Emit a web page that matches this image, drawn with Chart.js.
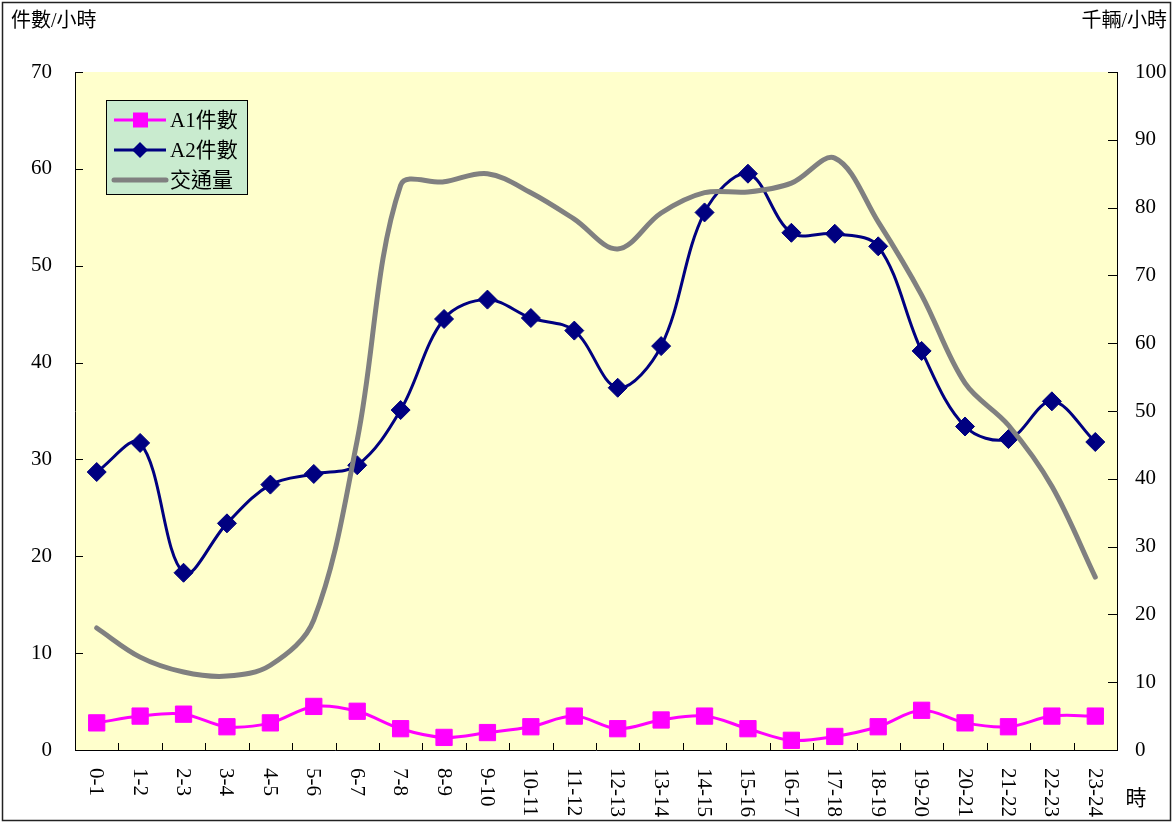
<!DOCTYPE html>
<html>
<head>
<meta charset="utf-8">
<script src="https://cdn.jsdelivr.net/npm/chart.js@4"></script>
<style>
html,body{margin:0;padding:0;background:#fff;}
canvas{display:block;}
</style>
</head>
<body>
<canvas id="c" width="1174" height="823"></canvas>
<script>
const categories = ['0-1','1-2','2-3','3-4','4-5','5-6','6-7','7-8','8-9','9-10','10-11','11-12','12-13','13-14','14-15','15-16','16-17','17-18','18-19','19-20','20-21','21-22','22-23','23-24'];
const a1Counts = [2.8,3.5,3.7,2.4,2.8,4.5,4.0,2.2,1.3,1.8,2.4,3.5,2.2,3.1,3.5,2.2,1.0,1.4,2.4,4.1,2.8,2.4,3.5,3.5];
const a2Counts = [28.7,31.7,18.3,23.4,27.4,28.5,29.4,35.1,44.5,46.5,44.6,43.3,37.4,41.7,55.5,59.5,53.4,53.3,52.0,41.2,33.4,32.1,36.0,31.8];
const traffic = [18.0,13.7,11.5,10.9,12.5,19.2,45.7,83.3,83.8,85.0,82.2,78.3,73.9,79.2,82.2,82.3,83.6,87.3,77.9,67.1,54.1,47.9,38.9,25.5];
const leftTicks = [0,10,20,30,40,50,60,70];
const rightTicks = [0,10,20,30,40,50,60,70,80,90,100];
const seriesNames = ['A1件數','A2件數','交通量'];
const leftTitle = '件數/小時';
const rightTitle = '千輛/小時';
const xTitle = '時';

const SERIF = "'Liberation Serif','Noto Sans CJK TC'";

const decor = {
  id: 'decor',
  beforeDraw(chart) {
    const ctx = chart.ctx, a = chart.chartArea;
    ctx.save();
    ctx.fillStyle = '#fff';
    ctx.fillRect(0, 0, chart.width, chart.height);
    ctx.fillStyle = '#FFFFCC';
    ctx.fillRect(a.left, a.top, a.right - a.left, a.bottom - a.top);
    ctx.restore();
  },
  afterDraw(chart) {
    const ctx = chart.ctx, a = chart.chartArea;
    const x = chart.scales.x, yl = chart.scales.y, yr = chart.scales.y2;
    ctx.save();
    // outer frame
    ctx.strokeStyle = '#222';
    ctx.lineWidth = 1.5;
    ctx.strokeRect(2.5, 2.5, 1168, 818);
    // tick marks
    ctx.strokeStyle = '#000';
    ctx.lineWidth = 1;
    ctx.beginPath();
    leftTicks.forEach(v => {
      const py = Math.round(yl.getPixelForValue(v)) + 0.5;
      ctx.moveTo(a.left, py); ctx.lineTo(a.left + 8, py);
    });
    rightTicks.forEach(v => {
      const py = Math.round(yr.getPixelForValue(v)) + 0.5;
      ctx.moveTo(a.right - 9, py); ctx.lineTo(a.right, py);
    });
    for (let i = 0; i < categories.length - 1; i++) {
      const px = Math.round((x.getPixelForValue(i) + x.getPixelForValue(i + 1)) / 2) + 0.5;
      ctx.moveTo(px, a.bottom); ctx.lineTo(px, a.bottom - 7);
    }
    ctx.stroke();
    // x labels rotated +90
    ctx.fillStyle = '#000';
    ctx.font = '21px ' + SERIF;
    ctx.textAlign = 'left';
    ctx.textBaseline = 'middle';
    categories.forEach((c, i) => {
      const px = x.getPixelForValue(i) - 1;
      ctx.save();
      ctx.translate(px, a.bottom + 18);
      ctx.rotate(Math.PI / 2);
      ctx.fillText(c, 0, 0);
      ctx.restore();
    });
    // titles
    ctx.font = '20px ' + SERIF;
    ctx.textAlign = 'left';
    ctx.fillText(leftTitle, 11, 22);
    ctx.textAlign = 'right';
    ctx.fillText(rightTitle, 1167, 22);
    ctx.textAlign = 'center';
    ctx.font = '21px ' + SERIF;
    ctx.fillText(xTitle, 1136, 799);
    // legend
    const lx = 106, ly = 100, lw = 141, lh = 94;
    ctx.fillStyle = '#C9EBCF';
    ctx.fillRect(lx, ly, lw, lh);
    ctx.strokeStyle = '#000';
    ctx.lineWidth = 1;
    ctx.strokeRect(lx + 0.5, ly + 0.5, lw, lh);
    const rows = [120, 150, 180];
    const ds = chart.data.datasets;
    rows.forEach((ry, k) => {
      const d = ds[k];
      ctx.strokeStyle = d.borderColor;
      ctx.lineWidth = d.borderWidth;
      ctx.lineCap = k === 2 ? 'round' : 'butt';
      ctx.beginPath();
      ctx.moveTo(114, ry); ctx.lineTo(166, ry);
      ctx.stroke();
      ctx.fillStyle = d.borderColor;
      if (k === 0) {
        ctx.fillRect(133, ry - 7.5, 15, 15);
      } else if (k === 1) {
        ctx.beginPath();
        ctx.moveTo(140, ry - 8); ctx.lineTo(148, ry); ctx.lineTo(140, ry + 8); ctx.lineTo(132, ry);
        ctx.closePath(); ctx.fill();
      }
      ctx.fillStyle = '#000';
      ctx.font = '21px ' + SERIF;
      ctx.textAlign = 'left';
      ctx.textBaseline = 'middle';
      ctx.fillText(seriesNames[k], 170, ry + 1);
    });
    ctx.restore();
  }
};

new Chart(document.getElementById('c'), {
  type: 'line',
  data: {
    labels: categories,
    datasets: [
      {
        label: seriesNames[0], data: a1Counts, yAxisID: 'y',
        borderColor: '#FF00FF', backgroundColor: '#FF00FF', borderWidth: 3,
        pointStyle: 'rect', pointRadius: 11.5, pointBorderWidth: 1,
        pointBackgroundColor: '#FF00FF', pointBorderColor: '#FF00FF',
        tension: 0.35, order: 2, clip: false
      },
      {
        label: seriesNames[1], data: a2Counts, yAxisID: 'y',
        borderColor: '#000080', backgroundColor: '#000080', borderWidth: 3,
        pointStyle: 'rectRot', pointRadius: 9.5, pointBorderWidth: 1,
        pointBackgroundColor: '#000080', pointBorderColor: '#000080',
        tension: 0.35, order: 1, clip: false
      },
      {
        label: seriesNames[2], data: traffic, yAxisID: 'y2',
        borderColor: '#808080', backgroundColor: '#808080', borderWidth: 5,
        borderCapStyle: 'round', borderJoinStyle: 'round',
        pointRadius: 0, tension: 0.35, order: 0, clip: false
      }
    ]
  },
  options: {
    responsive: false,
    animation: false,
    devicePixelRatio: 1,
    layout: { padding: { left: 0, right: 0, top: 72, bottom: 73 } },
    plugins: { legend: { display: false }, tooltip: { enabled: false }, title: { display: false } },
    scales: {
      x: {
        type: 'category', offset: true,
        grid: { display: false, offset: true },
        border: { display: true, color: '#000', width: 1 },
        ticks: { display: false },
        afterFit(s) { s.height = 0; }
      },
      y: {
        position: 'left', min: 0, max: 70,
        afterBuildTicks(s) { s.ticks = leftTicks.map(v => ({ value: v })); },
        grid: { display: false, drawTicks: false },
        border: { display: true, color: '#000', width: 1 },
        ticks: { color: '#000', font: { family: "'Liberation Serif'", size: 21 }, padding: 23 },
        afterFit(s) { s.width = 75; }
      },
      y2: {
        position: 'right', min: 0, max: 100,
        afterBuildTicks(s) { s.ticks = rightTicks.map(v => ({ value: v })); },
        grid: { display: false, drawTicks: false },
        border: { display: true, color: '#000', width: 1 },
        ticks: { color: '#000', font: { family: "'Liberation Serif'", size: 21 }, padding: 18 },
        afterFit(s) { s.width = 57; }
      }
    }
  },
  plugins: [decor]
});
</script>
</body>
</html>
